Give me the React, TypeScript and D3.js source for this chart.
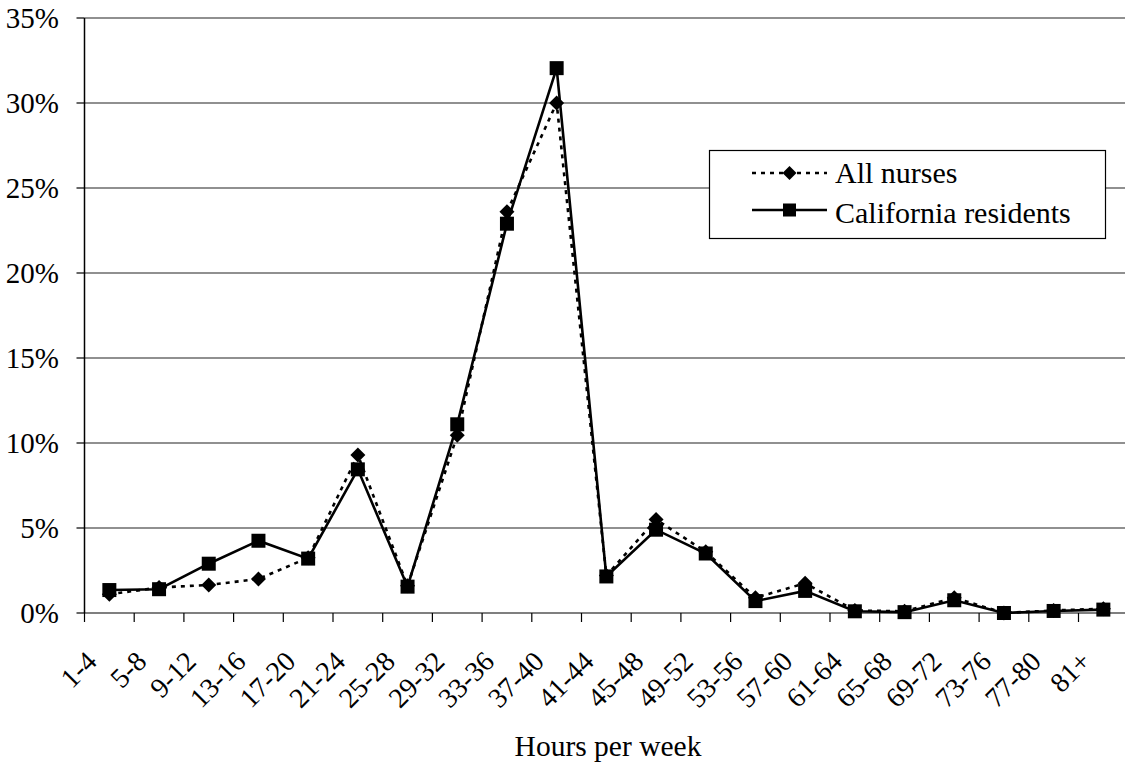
import React from "react";
import * as d3 from "d3";

const categories = ["1-4","5-8","9-12","13-16","17-20","21-24","25-28","29-32","33-36","37-40","41-44","45-48","49-52","53-56","57-60","61-64","65-68","69-72","73-76","77-80","81+"];
const allNurses = [1.1, 1.5, 1.65, 2.0, 3.25, 9.3, 1.6, 10.45, 23.6, 30.0, 2.2, 5.5, 3.6, 0.9, 1.75, 0.15, 0.1, 0.9, 0.0, 0.15, 0.25];
const california = [1.35, 1.4, 2.9, 4.25, 3.2, 8.45, 1.55, 11.1, 22.9, 32.05, 2.15, 4.9, 3.5, 0.7, 1.3, 0.1, 0.05, 0.75, 0.0, 0.12, 0.2];
const yTicks = [0, 5, 10, 15, 20, 25, 30, 35];
const seriesNames = ["All nurses", "California residents"];

const FONT = "'Liberation Serif', 'Times New Roman', serif";

export default function App() {
  const W = 1125, H = 762;
  const left = 84.5, right = left + 49.7 * 21;
  const top = 18, bottom = 613;
  const x = d3.scaleBand<string>().domain(categories).range([left, right]).padding(0);
  const y = d3.scaleLinear().domain([0, 35]).range([bottom, top]);
  const cx = (c: string) => (x(c) as number) + x.bandwidth() / 2;
  const line = d3.line<number>().x((_, i) => cx(categories[i])).y((d) => y(d));
  const diamond = (px: number, py: number, r: number) => `M${px},${py - r}L${px + r},${py}L${px},${py + r}L${px - r},${py}Z`;

  return (
    <svg width={W} height={H} style={{ position: "absolute", left: 0, top: 0, background: "#fff" }} fontFamily={FONT}>
      {yTicks.map((t) => (
        <g key={t}>
          <line x1={left} x2={W} y1={y(t)} y2={y(t)} stroke={t === 0 ? "#000" : "#222"} strokeWidth={1.2} />
          <line x1={left - 8} x2={left} y1={y(t)} y2={y(t)} stroke="#000" strokeWidth={1.2} />
          <text x={59} y={y(t)} dy="0.35em" textAnchor="end" fontSize={29} fill="#000">{t}%</text>
        </g>
      ))}
      <line x1={left} x2={left} y1={top} y2={bottom} stroke="#000" strokeWidth={1.5} />
      {categories.map((c, i) => (
        <line key={"t" + i} x1={x(c) as number} x2={x(c) as number} y1={bottom} y2={bottom + 9} stroke="#000" strokeWidth={1.2} />
      ))}
      <line x1={right} x2={right} y1={bottom} y2={bottom + 9} stroke="#000" strokeWidth={1.2} />
      {categories.map((c, i) => (
        <text key={"l" + i} transform={`translate(${cx(c) - 11},${bottom + 50}) rotate(-45)`} textAnchor="end" fontSize={28} fill="#000">{c}</text>
      ))}
      <text x={608} y={756} textAnchor="middle" fontSize={29.5} fill="#000">Hours per week</text>

      <path d={line(allNurses) || ""} fill="none" stroke="#000" strokeWidth={2.6} strokeDasharray="4,5" />
      {allNurses.map((v, i) => (
        <path key={"d" + i} d={diamond(cx(categories[i]), y(v), 7.5)} fill="#000" />
      ))}
      <path d={line(california) || ""} fill="none" stroke="#000" strokeWidth={2.6} />
      {california.map((v, i) => (
        <rect key={"s" + i} x={cx(categories[i]) - 7} y={y(v) - 7} width={14} height={14} fill="#000" />
      ))}

      <rect x={709.5} y={150.5} width={396} height={88} fill="#fff" stroke="#000" strokeWidth={1.2} />
      <line x1={752} x2={827} y1={173} y2={173} stroke="#000" strokeWidth={2.6} strokeDasharray="4,5" />
      <path d={diamond(789.5, 173, 7)} fill="#000" />
      <text x={835} y={183} fontSize={30} fill="#000">{seriesNames[0]}</text>
      <line x1={752} x2={827} y1={210} y2={210} stroke="#000" strokeWidth={2.6} />
      <rect x={783} y={203.5} width={13} height={13} fill="#000" />
      <text x={835} y={223} fontSize={30} fill="#000">{seriesNames[1]}</text>
    </svg>
  );
}
